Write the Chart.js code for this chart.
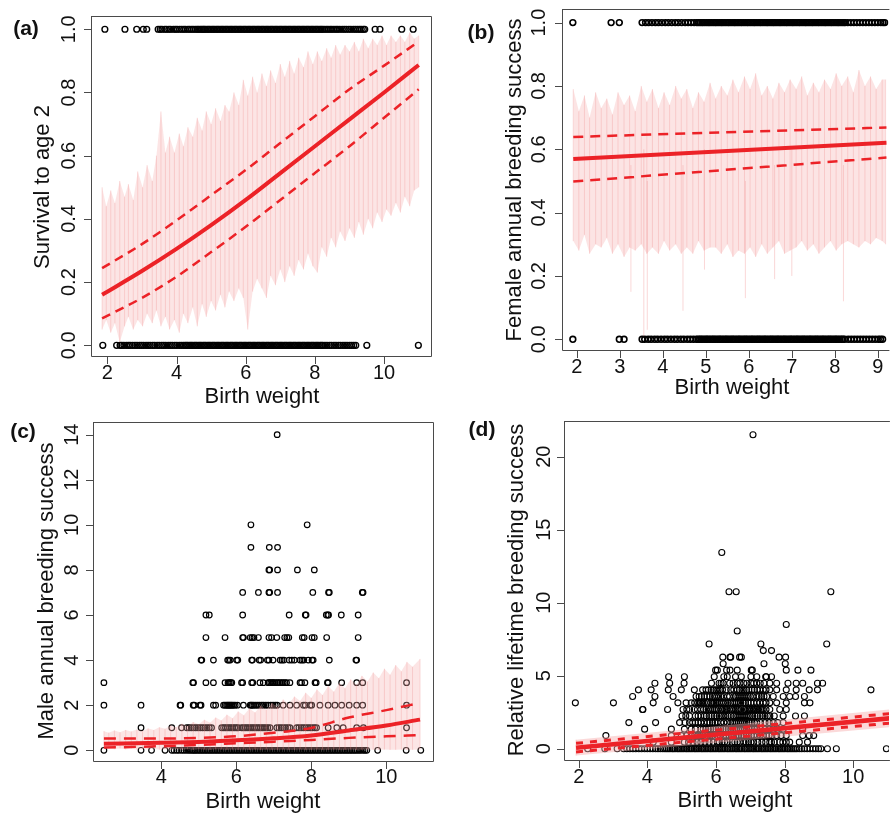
<!DOCTYPE html>
<html>
<head>
<meta charset="utf-8">
<script src="https://cdn.jsdelivr.net/npm/chart.js@4.4.1/dist/chart.umd.min.js"></script>
<style>
  html, body { margin: 0; padding: 0; background: #fff; }
  #wrap { position: relative; width: 894px; height: 813px; overflow: hidden; }
  #wrap canvas { position: absolute; left: 0; top: 0; }
</style>
</head>
<body>
<div id="wrap">
  <canvas id="pa" width="894" height="813"></canvas>
  <canvas id="pb" width="894" height="813"></canvas>
  <canvas id="pc" width="894" height="813"></canvas>
  <canvas id="pd" width="894" height="813"></canvas>
</div>
<script>
// ---- (a) survival to age 2 ----
const survivedX = [1.93,2.51,2.85,3.04,3.14,3.47,3.53,3.58,3.66,3.71,3.78,3.83,3.91,3.97,4.02,4.09,4.15,4.21,4.26,4.33,4.38,4.44,4.49,4.55,4.60,4.64,4.69,4.73,4.77,
  4.80,4.84,4.89,4.93,4.97,5.02,5.06,5.10,5.15,5.19,5.23,5.28,5.32,5.36,5.41,5.45,5.49,5.54,5.58,5.62,5.67,5.71,5.75,5.80,5.84,5.88,5.93,5.97,6.01,6.06,6.10,
  6.14,6.19,6.23,6.27,6.32,6.36,6.40,6.45,6.49,6.53,6.58,6.62,6.66,6.71,6.75,6.79,6.84,6.88,6.92,6.97,7.01,7.05,7.10,7.14,7.18,7.23,7.27,7.31,7.36,7.40,
  7.44,7.49,7.53,7.57,7.62,7.66,7.70,7.75,7.79,7.83,7.88,7.92,7.96,8.01,8.05,8.09,8.14,8.18,8.22,
  8.27,8.33,8.38,8.44,8.49,8.55,8.61,8.66,8.72,8.79,8.85,8.91,8.98,9.04,9.11,9.17,9.23,9.29,9.34,9.40,9.44,9.74,9.88,10.51,10.84];
const diedX = [1.87,2.27,2.37,2.42,2.48,2.55,2.61,2.66,2.73,2.80,2.86,2.93,2.99,3.05,3.12,3.18,3.24,3.31,3.37,3.44,3.50,3.57,3.63,3.69,3.76,3.82,3.88,3.95,4.01,4.08,4.14,4.20,4.25,
  4.29,4.33,4.38,4.42,4.46,4.51,4.55,4.59,4.64,4.68,4.72,4.77,4.81,4.85,4.90,4.94,4.98,5.03,5.07,5.11,5.16,5.20,5.24,5.29,5.33,5.37,5.42,5.46,5.50,5.55,5.59,
  5.63,5.68,5.72,5.76,5.81,5.85,5.89,5.94,5.98,6.02,6.07,6.11,6.15,6.20,6.24,6.28,6.33,6.37,6.41,6.46,6.50,6.54,6.59,6.63,6.67,6.72,6.76,6.80,6.85,6.89,6.93,
  6.98,7.02,7.06,7.11,7.15,7.19,7.24,7.28,7.32,7.37,7.41,7.45,7.50,7.54,7.58,7.63,7.67,7.71,7.76,7.80,7.84,7.89,7.93,7.97,8.02,8.06,8.10,8.15,8.19,8.23,
  8.29,8.35,8.42,8.48,8.55,8.61,8.68,8.74,8.81,8.87,8.93,9.00,9.06,9.12,9.18,9.50,10.99];
const survBandX = [1.85,1.97,2.1,2.22,2.36,2.5,2.61,2.75,2.88,3.02,3.15,3.3,3.42,3.55,3.68,3.8,3.94,4.08,4.2,4.33,4.47,4.6,4.74,4.86,5.0,5.13,5.27,5.4,5.52,5.66,
  5.8,5.93,6.06,6.2,6.33,6.47,6.6,6.72,6.86,7.0,7.13,7.27,7.4,7.53,7.67,7.8,7.94,8.07,8.2,8.34,8.47,8.6,8.73,8.87,9.0,9.14,9.27,9.4,9.54,9.67,
  9.8,9.94,10.07,10.2,10.34,10.47,10.6,10.74,10.87,11.0];
const survBandHi = [0.50,0.44,0.49,0.45,0.52,0.47,0.51,0.46,0.55,0.50,0.57,0.52,0.60,0.74,0.61,0.66,0.61,0.67,0.63,0.69,
  0.66,0.72,0.68,0.74,0.70,0.75,0.71,0.76,0.74,0.80,0.76,0.84,0.79,0.85,0.80,0.86,0.82,0.87,0.83,0.89,
  0.85,0.90,0.86,0.91,0.88,0.93,0.89,0.93,0.90,0.94,0.91,0.95,0.92,0.95,0.93,0.96,0.93,0.97,0.94,0.97,
  0.95,0.98,0.95,0.98,0.96,0.98,0.96,0.99,0.97,0.98];
const survBandLo = [0.05,0.08,0.04,0.07,0.01,0.06,0.09,0.05,0.08,0.06,0.10,0.07,0.11,0.06,0.09,0.05,0.08,0.04,0.10,0.07,
  0.12,0.06,0.13,0.09,0.14,0.11,0.16,0.12,0.17,0.14,0.18,0.15,0.05,0.17,0.21,0.18,0.15,0.22,0.19,0.24,
  0.20,0.25,0.22,0.27,0.24,0.29,0.25,0.23,0.31,0.28,0.34,0.31,0.36,0.33,0.37,0.34,0.39,0.35,0.40,0.37,
  0.42,0.39,0.43,0.41,0.45,0.42,0.47,0.44,0.49,0.50];
const survLineX = [1.85,3,4,5,6,7,8,9,10,11];
const survFit   = [0.16,0.235,0.305,0.38,0.46,0.545,0.63,0.715,0.80,0.887];
const survUpper = [0.244,0.32,0.395,0.475,0.555,0.64,0.725,0.81,0.885,0.961];
const survLower = [0.085,0.15,0.217,0.295,0.375,0.46,0.545,0.63,0.72,0.81];

// ---- (b) female annual breeding success ----
const femBredX = [1.91,2.80,2.99,3.52,3.60,3.67,3.75,3.83,3.90,3.98,4.06,4.13,4.21,4.29,4.36,4.44,4.52,4.59,4.66,4.73,4.79,
  4.83,4.87,4.91,4.94,4.98,5.02,5.06,5.09,5.13,5.17,5.21,5.24,5.28,5.32,5.36,5.39,5.43,5.47,5.51,5.54,5.58,5.62,5.66,5.69,5.73,5.77,5.81,5.84,5.88,
  5.92,5.96,5.99,6.03,6.07,6.11,6.14,6.18,6.22,6.26,6.29,6.33,6.37,6.41,6.44,6.48,6.52,6.56,6.59,6.63,6.67,6.71,6.74,6.78,6.82,6.86,6.89,6.93,6.97,
  7.01,7.04,7.08,7.12,7.16,7.19,7.23,7.27,7.31,7.34,7.38,7.42,7.46,7.49,7.53,7.57,7.61,7.64,7.68,7.72,7.76,7.79,7.83,7.87,7.91,7.94,7.98,8.02,8.06,
  8.09,8.13,8.17,8.21,8.24,8.30,8.37,8.44,8.51,8.58,8.65,8.72,8.79,8.86,8.93,9.00,9.07,9.12,9.16];
const femFailX = [1.91,2.99,3.10,3.52,3.58,3.66,3.73,3.81,3.88,3.96,4.04,4.11,4.19,4.27,4.34,4.42,4.49,4.57,4.64,4.71,4.78,
  4.82,4.86,4.89,4.93,4.97,5.01,5.04,5.08,5.12,5.16,5.19,5.23,5.27,5.31,5.34,5.38,5.42,5.46,5.49,5.53,5.57,5.61,5.64,5.68,5.72,5.76,5.79,5.83,5.87,
  5.91,5.94,5.98,6.02,6.06,6.09,6.13,6.17,6.21,6.24,6.28,6.32,6.36,6.39,6.43,6.47,6.51,6.54,6.58,6.62,6.66,6.69,6.73,6.77,6.81,6.84,6.88,6.92,6.96,
  6.99,7.03,7.07,7.11,7.14,7.18,7.22,7.26,7.29,7.33,7.37,7.41,7.44,7.48,7.52,7.56,7.59,7.63,7.67,7.71,7.74,7.78,7.82,7.86,7.89,7.93,7.97,8.01,8.04,
  8.08,8.12,8.16,8.19,8.23,8.31,8.38,8.45,8.52,8.59,8.66,8.73,8.80,8.87,8.94,9.01,9.06,9.11];
const femBandX = [1.92,2.05,2.18,2.3,2.44,2.57,2.7,2.83,2.96,3.1,3.23,3.36,3.5,3.63,3.76,3.9,4.03,4.16,4.3,4.43,4.56,4.7,4.83,4.96,5.1,5.23,5.36,5.5,5.63,5.76,
  5.9,6.03,6.16,6.3,6.43,6.56,6.7,6.83,6.96,7.1,7.23,7.36,7.5,7.63,7.76,7.9,8.03,8.16,8.3,8.43,8.56,8.7,8.83,8.96,9.1,9.18];
const femBandHi = [0.79,0.72,0.77,0.70,0.78,0.73,0.76,0.71,0.78,0.74,0.77,0.72,0.80,0.75,0.79,0.73,0.78,0.74,0.80,0.76,
  0.79,0.73,0.78,0.75,0.81,0.76,0.80,0.77,0.82,0.78,0.83,0.79,0.84,0.77,0.80,0.76,0.81,0.78,0.82,0.79,
  0.83,0.77,0.81,0.78,0.82,0.79,0.84,0.80,0.83,0.78,0.85,0.80,0.83,0.79,0.82,0.82];
const femBandLo = [0.31,0.28,0.33,0.27,0.30,0.29,0.32,0.27,0.30,0.26,0.29,0.28,0.30,0.27,0.29,0.27,0.31,0.28,0.30,0.27,
  0.29,0.27,0.31,0.28,0.29,0.29,0.27,0.30,0.26,0.28,0.27,0.29,0.26,0.30,0.27,0.29,0.31,0.27,0.28,0.29,
  0.31,0.28,0.30,0.27,0.29,0.31,0.28,0.30,0.31,0.30,0.29,0.31,0.30,0.32,0.31,0.30];
const femSpikeX  = [3.26,3.56,3.64,4.47,4.97,5.92,6.6,7.0,8.2];
const femSpikeLo = [0.15,0.01,0.03,0.09,0.22,0.13,0.19,0.20,0.12];
const femSpikeHi = [0.55,0.60,0.50,0.55,0.60,0.50,0.55,0.60,0.55];
const femLineX = [1.92,9.2];
const femFit   = [0.569,0.621];
const femUpper = [0.639,0.669];
const femLower = [0.498,0.574];

// ---- (c) male annual breeding success ----
const maleLevels = [0,1,2,3,4,5,6,7,8,9,10,14];
const maleX = [
  [2.47,3.46,3.74,4.10,4.28,4.34,4.41,4.47,4.54,4.60,4.66,4.72,4.77,4.82,4.86,4.90,4.94,4.99,5.03,5.08,5.12,5.17,5.21,5.26,5.30,5.35,5.39,5.44,5.48,
   5.53,5.57,5.62,5.66,5.71,5.75,5.80,5.84,5.89,5.93,5.98,6.02,6.07,6.11,6.16,6.20,6.25,6.29,6.34,6.38,6.43,6.47,6.52,6.56,6.61,6.65,6.70,6.74,6.79,
   6.83,6.88,6.92,6.97,7.01,7.06,7.10,7.15,7.19,7.24,7.28,7.33,7.37,7.42,7.46,7.51,7.55,7.60,7.64,7.69,7.73,7.78,7.82,7.87,7.91,7.96,8.00,8.05,8.09,
   8.14,8.18,8.23,8.27,8.32,8.36,8.41,8.45,8.50,8.54,8.59,8.63,8.68,8.72,8.77,8.81,8.86,8.90,8.95,8.99,9.04,9.08,9.13,9.17,9.22,9.27,9.32,9.38,9.43,9.48,
   9.77,10.53,10.92],
  [3.46,4.28,4.54,4.68,4.74,4.80,4.86,4.92,4.98,5.04,5.10,5.16,5.22,5.28,5.34,5.61,5.66,5.71,5.76,5.81,5.86,5.91,5.96,6.01,6.05,6.14,6.19,6.24,6.29,
   6.34,6.39,6.44,6.49,6.54,6.59,6.64,6.69,6.74,6.79,6.84,6.90,7.08,7.14,7.20,7.26,7.32,7.38,7.43,7.61,7.67,7.73,7.79,7.85,7.91,7.97,8.03,8.09,8.14,
   8.45,8.68,8.85,9.21,9.39,10.54],
  [2.47,3.46,4.50,4.52,4.85,4.88,5.03,5.06,5.39,5.45,5.66,5.70,5.74,5.77,5.80,5.83,5.86,5.89,5.93,5.97,6.03,6.19,6.37,6.40,6.43,6.47,6.52,6.57,6.62,
   6.68,6.73,6.79,6.85,6.92,6.98,7.04,7.09,7.25,7.43,7.61,7.79,7.84,7.97,8.01,8.23,8.45,8.63,8.81,9.01,9.21,9.37,10.54],
  [2.47,4.84,4.86,5.19,5.39,5.70,5.78,5.81,5.85,5.88,6.14,6.17,6.41,6.44,6.63,6.72,6.85,6.88,6.92,6.96,6.99,7.03,7.08,7.12,7.16,7.21,7.25,7.30,7.34,
   7.43,7.70,7.74,7.83,8.10,8.13,8.43,8.45,8.81,9.21,9.37,10.54],
  [5.06,5.08,5.39,5.77,5.80,5.84,6.01,6.04,6.41,6.43,6.61,6.65,6.83,6.87,6.98,7.17,7.22,7.27,7.41,7.48,7.55,7.70,7.75,7.80,7.92,8.02,8.05,8.48,9.19,9.21],
  [5.19,5.70,6.17,6.19,6.37,6.42,6.47,6.59,6.87,6.94,7.08,7.29,7.35,7.40,7.76,7.81,8.02,8.08,8.41,9.25],
  [5.19,5.28,6.17,7.41,7.84,7.86,8.40,8.44,8.46,8.80,9.25],
  [6.17,6.59,6.87,6.89,7.10,8.04,8.46,8.48,9.36,9.38],
  [6.87,6.89,7.10,7.63,8.08],
  [6.39,6.88,7.10],
  [6.39,7.89],
  [7.09]
];
const maleBandX = [2.47,2.6,2.75,2.9,3.05,3.2,3.35,3.5,3.65,3.8,3.95,4.1,4.25,4.4,4.55,4.7,4.85,5.0,5.15,5.3,5.45,5.6,5.75,5.9,6.05,6.2,6.35,6.5,6.65,6.8,
  6.95,7.1,7.25,7.4,7.55,7.7,7.85,8.0,8.15,8.3,8.45,8.6,8.75,8.9,9.05,9.2,9.35,9.5,9.65,9.8,9.95,10.1,10.25,10.4,10.55,10.7,10.9];
const maleBandHi = [0.85,0.78,0.88,0.80,0.90,0.83,0.92,0.86,0.97,0.90,1.02,0.95,1.10,1.02,1.18,1.08,1.25,1.15,1.35,1.22,
  1.45,1.32,1.58,1.42,1.72,1.55,1.85,1.68,1.98,1.80,2.10,1.92,2.25,2.05,2.38,2.18,2.55,2.32,2.70,2.45,
  2.85,2.60,2.98,2.75,3.15,2.90,3.30,3.05,3.45,3.20,3.62,3.35,3.78,3.50,3.92,3.70,4.05];
const maleBandLo = [0.06,0.09,0.05,0.08,0.04,0.07,0.03,0.06,0.04,0.07,0.03,0.05,0.02,0.06,0.03,0.04,0.02,0.05,0.03,0.02,
  0.04,0.03,0.02,0.03,0.02,0.03,0.02,0.03,0.02,0.03,0.02,0.02,0.03,0.02,0.02,0.03,0.02,0.02,0.03,0.02,
  0.02,0.03,0.02,0.02,0.03,0.02,0.02,0.03,0.02,0.02,0.03,0.02,0.02,0.03,0.02,0.02,0.03];
const maleLineX = [2.47,4,5,6,7,8,9,10,10.9];
const maleFit   = [0.29,0.33,0.37,0.44,0.53,0.66,0.88,1.10,1.36];
const maleUpper = [0.52,0.52,0.55,0.62,0.78,0.99,1.45,1.78,2.10];
const maleLower = [0.12,0.18,0.24,0.31,0.38,0.46,0.55,0.62,0.67];

// ---- (d) relative lifetime breeding success ----
const relRowY = [0,0.45,0.90,1.34,1.79,2.24,2.69,3.14,3.58,4.03,4.48,4.93,5.38,5.82,6.27,6.72,7.17,8.06,8.51,10.75,13.44,21.5];
const relRowX = [
  [2.26,2.76,3.12,3.31,3.40,3.49,3.58,3.66,3.75,3.83,3.92,4.00,4.08,4.16,4.24,4.31,4.38,4.45,4.51,4.56,4.61,4.66,4.72,4.76,4.81,4.87,4.91,4.96,5.01,
   5.06,5.12,5.16,5.21,5.26,5.31,5.37,5.41,5.46,5.51,5.57,5.61,5.66,5.71,5.76,5.82,5.86,5.91,5.96,6.01,6.07,6.11,6.16,6.21,6.26,6.32,6.36,6.41,6.46,
   6.51,6.57,6.61,6.66,6.71,6.76,6.82,6.86,6.91,6.96,7.01,7.07,7.11,7.16,7.21,7.26,7.32,7.36,7.41,7.46,7.51,7.57,7.61,7.66,7.71,7.76,7.82,7.86,7.91,
   7.96,8.01,8.07,8.11,8.16,8.21,8.26,8.31,8.36,8.43,8.50,8.58,8.66,8.74,8.83,8.91,8.99,9.06,9.25,9.51,10.97],
  [4.17,4.70,5.08,5.20,5.33,5.45,5.56,5.68,5.80,5.92,6.04,6.10,6.18,6.25,6.33,6.47,6.55,6.62,6.70,6.81,6.88,6.95,7.02,7.10,7.22,7.34,7.45,7.57,7.62,
   7.70,7.86,7.95,8.05,8.15,8.43,8.67],
  [2.79,4.70,4.99,5.15,5.28,5.38,5.47,5.55,5.62,5.75,5.83,5.90,6.04,6.12,6.23,6.30,6.38,6.45,6.52,6.59,6.66,6.74,6.81,6.88,6.96,7.03,7.10,7.20,7.29,
   7.38,7.48,7.55,7.63,7.77,7.90,8.05,8.53,8.72,8.85],
  [3.92,4.70,5.08,5.28,5.40,5.56,5.63,5.70,5.78,5.85,5.92,6.00,6.07,6.14,6.21,6.29,6.36,6.43,6.49,6.55,6.60,6.66,6.72,6.78,6.84,6.90,6.97,7.05,7.12,
   7.19,7.30,7.43,7.55,7.67,7.80,7.96,8.53],
  [3.46,4.24,4.94,5.10,5.23,5.32,5.40,5.48,5.56,5.66,5.75,5.82,5.90,5.97,6.04,6.14,6.23,6.33,6.43,6.49,6.55,6.60,6.66,6.72,6.78,6.84,6.90,6.97,7.05,
   7.12,7.19,7.30,7.43,7.55,7.67,7.80,7.96],
  [5.01,5.12,5.23,5.40,5.48,5.56,5.66,5.72,5.80,5.88,5.95,6.02,6.10,6.16,6.23,6.29,6.35,6.44,6.52,6.58,6.64,6.70,6.76,6.82,6.88,6.94,7.00,7.07,7.14,
   7.21,7.29,7.36,7.43,7.50,7.57,7.70,7.96,8.32,8.58],
  [3.86,3.87,4.59,5.04,5.15,5.23,5.37,5.46,5.56,5.64,5.71,5.78,5.84,5.90,5.95,6.00,6.06,6.14,6.19,6.25,6.29,6.33,6.40,6.47,6.52,6.58,6.62,6.66,6.72,
   6.81,6.86,6.92,6.96,7.00,7.05,7.10,7.15,7.19,7.24,7.30,7.34,7.38,7.46,7.57,7.86,8.05],
  [1.90,3.01,4.17,4.89,5.13,5.28,5.38,5.47,5.52,5.56,5.61,5.66,5.75,5.85,5.90,5.95,6.00,6.04,6.10,6.16,6.22,6.28,6.35,6.43,6.49,6.55,6.60,6.66,6.72,
   6.80,6.86,6.94,7.02,7.10,7.19,7.28,7.38,7.46,7.57,7.77,8.05,8.58,8.74],
  [3.57,4.22,4.75,5.42,5.51,5.58,5.66,5.74,5.82,5.90,5.96,6.02,6.08,6.14,6.22,6.33,6.40,6.52,6.58,6.64,6.70,6.76,6.82,6.88,6.94,7.00,7.08,7.19,7.26,
   7.33,7.40,7.48,7.67,7.96,8.15,8.32,8.58],
  [3.74,4.11,4.61,4.99,5.37,5.61,5.71,5.78,5.86,5.93,6.00,6.06,6.12,6.19,6.30,6.43,6.52,6.62,6.69,6.76,6.82,6.89,6.96,7.05,7.12,7.20,7.28,7.38,7.46,
   7.57,7.77,8.05,8.34,8.72,8.96,10.52],
  [4.22,4.65,5.07,5.87,6.09,6.15,6.21,6.40,6.50,6.62,6.70,6.81,6.90,7.02,7.10,7.19,7.29,7.40,7.57,7.77,8.10,8.34,8.53,8.96,9.11],
  [4.62,5.08,5.95,6.23,6.33,6.57,6.74,7.02,7.19,7.45,7.47,7.62],
  [5.99,6.04,6.31,6.41,6.62,7.03,7.06,8.05,8.39,8.77],
  [6.21,7.40,8.02],
  [6.20,6.41,6.43,6.69,6.74,7.84,8.03],
  [7.38,7.62],
  [5.80,7.31,9.23],
  [6.62],
  [8.05],
  [6.38,6.59,9.35],
  [6.17],
  [7.08]
];
const relBandX  = [1.92,11.05];
const relBandHi = [0.62,2.68];
const relBandLo = [-0.47,1.48];
const relLineX = [1.92,11.05];
const relFit   = [0.07,2.08];
const relUpper = [0.37,2.40];
const relLower = [-0.22,1.75];

// ---- tick labels ----
const survXTicks = [2,4,6,8,10];
const femXTicks  = [2,3,4,5,6,7,8,9];
const maleXTicks = [4,6,8,10];
const relXTicks  = [2,4,6,8,10];
const propYTicks = ['0.0','0.2','0.4','0.6','0.8','1.0'];
const maleYTicks = ['0','2','4','6','8','10','12','14'];
const relYTicks  = ['0','5','10','15','20'];

const RED = '#ec2227';
const FONT = '"Liberation Sans", Arial, sans-serif';

const xy = (xs, ys) => xs.map((x, i) => ({ x: x, y: ys[i] }));
const row = (xs, y) => xs.map(x => ({ x: x, y: y }));
const segs = (xs, lo, hi) => xs.flatMap((x, i) => [{ x: x, y: lo[i] }, { x: x, y: hi[i] }, { x: x, y: null }]);

function fitLine(xs, ys, width, dash) {
  return { type: 'line', data: xy(xs, ys), borderColor: RED, borderWidth: width, borderDash: dash || [],
    pointRadius: 0, fill: false, cubicInterpolationMode: 'monotone', order: 0 };
}

function band(xs, hi, lo, fillAlpha, lineAlpha) {
  return [
    { type: 'line', data: xy(xs, hi), borderColor: 'transparent', borderWidth: 0, pointRadius: 0,
      fill: '+1', backgroundColor: 'rgba(246,170,170,' + fillAlpha + ')', order: 2 },
    { type: 'line', data: xy(xs, lo), borderColor: 'transparent', borderWidth: 0, pointRadius: 0, fill: false, order: 2 },
    { type: 'line', data: segs(xs, lo, hi), borderColor: 'rgba(240,140,140,' + lineAlpha + ')', borderWidth: 1,
      pointRadius: 0, fill: false, spanGaps: false, order: 1 }
  ];
}

function dots(data, r, w) {
  return { type: 'scatter', data: data, pointRadius: r, pointBorderWidth: w || 1,
    pointBorderColor: '#000', pointBackgroundColor: 'rgba(0,0,0,0)', order: 3 };
}

// draws the R-style box, ticks and texts through the chart's own scales
const rAxes = {
  id: 'rAxes',
  afterDraw(chart, args, o) {
    const ctx = chart.ctx, a = chart.chartArea, xs = chart.scales.x, ys = chart.scales.y;
    ctx.save();
    ctx.strokeStyle = '#4a4a4a';
    ctx.lineWidth = 1;
    ctx.beginPath();
    ctx.moveTo(a.left + 0.5, a.top + 0.5);
    ctx.lineTo(a.right + (o.rightEdge ? -0.5 : 1), a.top + 0.5);
    ctx.moveTo(a.left + 0.5, a.top);
    ctx.lineTo(a.left + 0.5, a.bottom - 0.5);
    ctx.lineTo(a.right + (o.rightEdge ? -0.5 : 1), a.bottom - 0.5);
    if (o.rightEdge) ctx.lineTo(a.right - 0.5, a.top + 0.5);
    o.xTicks.forEach(v => {
      const px = Math.round(xs.getPixelForValue(v)) + 0.5;
      ctx.moveTo(px, a.bottom);
      ctx.lineTo(px, a.bottom + 7);
    });
    o.yTicks.forEach(t => {
      const py = Math.round(ys.getPixelForValue(Number(t))) + 0.5;
      ctx.moveTo(a.left, py);
      ctx.lineTo(a.left - 7, py);
    });
    ctx.stroke();

    ctx.fillStyle = '#111';
    ctx.textAlign = 'center';
    ctx.textBaseline = 'middle';
    ctx.font = '20px ' + FONT;
    o.xTicks.forEach(v => ctx.fillText(String(v), xs.getPixelForValue(v), o.xLabelY));
    o.yTicks.forEach(t => {
      ctx.save();
      ctx.translate(o.yLabelX, ys.getPixelForValue(Number(t)));
      ctx.rotate(-Math.PI / 2);
      ctx.fillText(t, 0, 0);
      ctx.restore();
    });
    ctx.font = '22px ' + FONT;
    ctx.fillText(o.xTitle, o.xTitlePos[0], o.xTitlePos[1]);
    ctx.save();
    ctx.translate(o.yTitlePos[0], o.yTitlePos[1]);
    ctx.rotate(-Math.PI / 2);
    ctx.fillText(o.yTitle, 0, 0);
    ctx.restore();
    ctx.font = 'bold 21px ' + FONT;
    ctx.fillText(o.tag, o.tagPos[0], o.tagPos[1]);
    ctx.restore();
  }
};

function panel(id, area, xRange, yRange, datasets, axes) {
  new Chart(document.getElementById(id), {
    type: 'scatter',
    data: { datasets: datasets },
    options: {
      responsive: false,
      animation: false,
      events: [],
      layout: { padding: { left: area[0], top: area[1], right: 894 - area[2], bottom: 813 - area[3] } },
      plugins: { legend: { display: false }, tooltip: { enabled: false }, rAxes: axes },
      scales: {
        x: { type: 'linear', display: false, min: xRange[0], max: xRange[1] },
        y: { type: 'linear', display: false, min: yRange[0], max: yRange[1] }
      }
    },
    plugins: [rAxes]
  });
}

panel('pa', [91, 16, 432, 357], [1.529, 11.384], [-0.037, 1.042], [
  fitLine(survLineX, survFit, 4),
  fitLine(survLineX, survUpper, 2.5, [9, 6]),
  fitLine(survLineX, survLower, 2.5, [9, 6]),
  ...band(survBandX, survBandHi, survBandLo, 0.3, 0.3),
  dots(row(survivedX, 1), 2.9, 1.4),
  dots(row(diedX, 0), 2.9, 1.4)
], { tag: '(a)', tagPos: [26, 29], xTicks: survXTicks, yTicks: propYTicks, xLabelY: 373, yLabelX: 69,
     xTitle: 'Birth weight', xTitlePos: [262, 397], yTitle: 'Survival to age 2', yTitlePos: [43, 187], rightEdge: true });

panel('pb', [562, 9, 894, 351], [1.658, 9.245], [-0.037, 1.043], [
  fitLine(femLineX, femFit, 4),
  fitLine(femLineX, femUpper, 2.5, [10, 7]),
  fitLine(femLineX, femLower, 2.5, [10, 7]),
  ...band(femBandX, femBandHi, femBandLo, 0.32, 0.3),
  { type: 'line', data: segs(femSpikeX, femSpikeLo, femSpikeHi), borderColor: 'rgba(240,140,140,0.35)', borderWidth: 1,
    pointRadius: 0, fill: false, spanGaps: false, order: 1 },
  dots(row(femBredX, 1), 2.9, 1.6),
  dots(row(femFailX, 0), 2.9, 1.6)
], { tag: '(b)', tagPos: [481, 33], xTicks: femXTicks, yTicks: propYTicks, xLabelY: 367, yLabelX: 539,
     xTitle: 'Birth weight', xTitlePos: [732, 388], yTitle: 'Female annual breeding success', yTitlePos: [515, 180], rightEdge: false });

panel('pc', [93, 422, 434, 762], [2.179, 11.272], [-0.52, 14.56], [
  fitLine(maleLineX, maleFit, 4),
  fitLine(maleLineX, maleUpper, 2.5, [12, 8]),
  fitLine(maleLineX, maleLower, 2.5, [12, 8]),
  ...band(maleBandX, maleBandHi, maleBandLo, 0.3, 0.3),
  ...maleLevels.map((lv, i) => dots(row(maleX[i], lv), 2.8, 1.2))
], { tag: '(c)', tagPos: [23, 432], xTicks: maleXTicks, yTicks: maleYTicks, xLabelY: 777, yLabelX: 72,
     xTitle: 'Birth weight', xTitlePos: [263, 802], yTitle: 'Male annual breeding success', yTitlePos: [47, 591], rightEdge: true });

panel('pd', [564, 421, 894, 761], [1.569, 11.043], [-0.84, 22.44], [
  fitLine(relLineX, relFit, 4.5),
  fitLine(relLineX, relUpper, 3, [7, 7]),
  fitLine(relLineX, relLower, 3, [7, 7]),
  ...band(relBandX, relBandHi, relBandLo, 0.45, 0.3),
  ...relRowY.map((yv, i) => dots(row(relRowX[i], yv), 3, 1.1))
], { tag: '(d)', tagPos: [482, 430], xTicks: relXTicks, yTicks: relYTicks, xLabelY: 777, yLabelX: 544,
     xTitle: 'Birth weight', xTitlePos: [735, 801], yTitle: 'Relative lifetime breeding success', yTitlePos: [517, 590], rightEdge: false });
</script>
</body>
</html>
